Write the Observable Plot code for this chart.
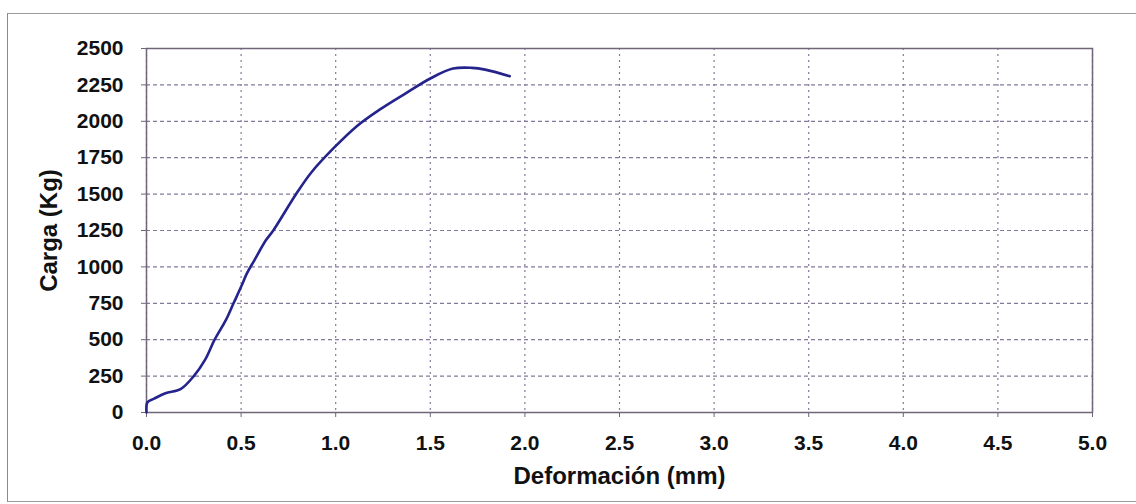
<!DOCTYPE html>
<html>
<head>
<meta charset="utf-8">
<script src="https://cdn.jsdelivr.net/npm/d3@7"></script>
<script src="https://cdn.jsdelivr.net/npm/@observablehq/plot@0.6"></script>
<style>
  html, body { margin: 0; padding: 0; background: #fff; }
  #wrap { position: relative; width: 1136px; height: 504px; overflow: hidden; }
  #box { position: absolute; left: 7px; top: 13px; width: 1140px; height: 487px;
         border-left: 1.5px solid #8a8a8a; border-top: 1.5px solid #9a9a9a; border-bottom: 1.5px solid #9a9a9a; }
  #chart { position: absolute; left: 0; top: 0; }
</style>
</head>
<body>
<div id="wrap"><div id="box"></div><div id="chart"></div></div>
<script>
// Deformación (mm)
const deformacion = [0, 0.005, 0.04, 0.10, 0.18, 0.25, 0.31, 0.36, 0.42, 0.46, 0.50, 0.53, 0.57, 0.63, 0.67, 0.79, 0.87, 0.99, 1.11, 1.23, 1.37, 1.50, 1.62, 1.72, 1.79, 1.92];
// Carga (Kg)
const carga = [0, 70, 95, 132, 160, 250, 363, 500, 636, 750, 863, 954, 1045, 1181, 1250, 1499, 1647, 1817, 1965, 2078, 2192, 2294, 2362, 2367, 2355, 2310];
const xTicks = [0, 0.5, 1, 1.5, 2, 2.5, 3, 3.5, 4, 4.5, 5];
const yTicks = [0, 250, 500, 750, 1000, 1250, 1500, 1750, 2000, 2250, 2500];
const xTitle = "Deformación (mm)";
const yTitle = "Carga (Kg)";

const data = deformacion.map((d, i) => ({x: d, y: carga[i]}));
const gridColor = "#84789a";
const axisColor = "#6f667a";
const font = "'Liberation Sans', Arial, sans-serif";

const chart = Plot.plot({
  width: 1136,
  height: 504,
  marginLeft: 146,
  marginRight: 44,
  marginTop: 48,
  marginBottom: 92,
  style: {fontFamily: font, fontSize: "21px", fontWeight: "bold", color: "#111", background: "transparent"},
  x: {domain: [0, 5]},
  y: {domain: [0, 2500]},
  marks: [
    Plot.gridX(xTicks, {stroke: gridColor, strokeOpacity: 1, strokeWidth: 1.2, strokeDasharray: "2,4"}),
    Plot.gridY(yTicks, {stroke: gridColor, strokeOpacity: 1, strokeWidth: 1.2, strokeDasharray: "4,3"}),
    Plot.frame({stroke: axisColor, strokeWidth: 1.5}),
    Plot.axisX(xTicks, {tickFormat: d3.format(".1f"), tickSize: 5, tickPadding: 18, stroke: axisColor, label: null, fontSize: 21, fontWeight: "bold", fill: "#111", letterSpacing: "1px"}),
    Plot.axisY(yTicks, {tickFormat: d => String(d), tickSize: 5, tickPadding: 18, stroke: axisColor, label: null, fontSize: 21, fontWeight: "bold", fill: "#111", letterSpacing: "0.5px"}),
    Plot.line(data, {x: "x", y: "y", stroke: "#25238c", strokeWidth: 2.6, strokeLinejoin: "round", curve: "catmull-rom"}),
    Plot.text([yTitle], {frameAnchor: "left", dx: -97, rotate: -90, text: d => d, fontSize: 24, fontWeight: "bold", fill: "#111", textAnchor: "middle", lineAnchor: "middle"}),
    Plot.text([xTitle], {frameAnchor: "bottom", dy: 64, text: d => d, fontSize: 24, fontWeight: "bold", fill: "#111", textAnchor: "middle", lineAnchor: "middle"})
  ]
});
document.getElementById("chart").appendChild(chart);
</script>
</body>
</html>
